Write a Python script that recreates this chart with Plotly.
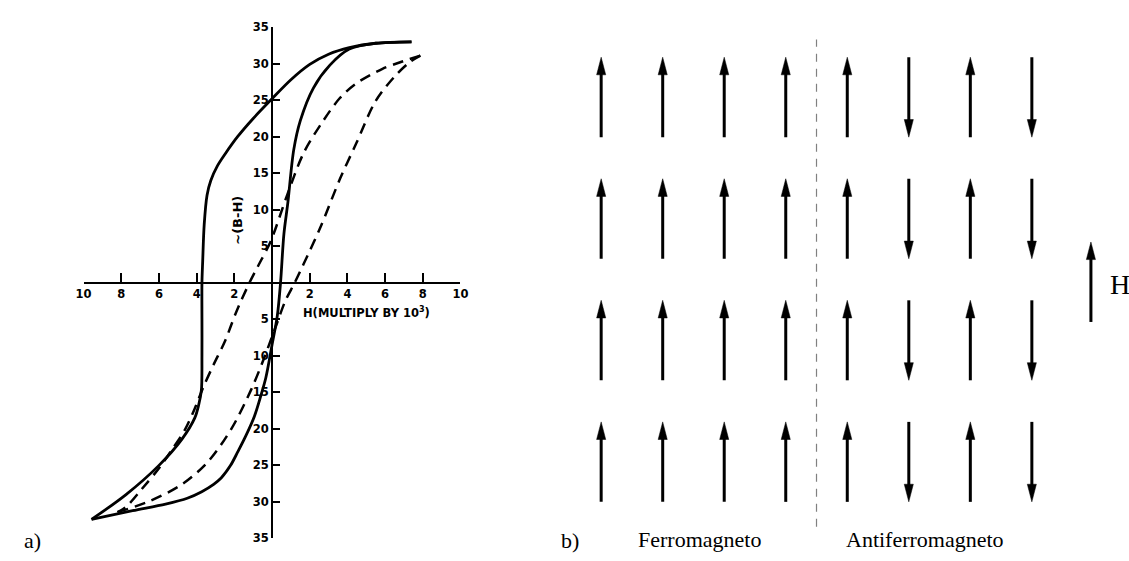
import plotly.graph_objects as go

W, H_PX = 1129, 561

# ---- a) hysteresis loops: H (x 10^3) versus ~(B-H) ----
# major loop (solid), descending branch from positive saturation
major_down_h = [7.4, 5.5, 4.1, 3.0, 2.0, 1.0, 0.0, -1.0, -1.83, -2.5, -2.9, -3.25,
                -3.45, -3.6, -3.68, -3.72, -3.72, -3.72, -3.75, -3.9, -4.1, -4.78,
                -6.0, -7.75, -9.58]
major_down_b = [33.0, 32.8, 32.2, 31.3, 29.9, 27.8, 25.2, 22.5, 20.0, 17.6, 16.0, 14.0,
                12.0, 8.0, 3.0, 0.0, -5.0, -10.0, -14.7, -16.8, -18.5, -21.4,
                -25.0, -29.0, -32.4]
# major loop (solid), ascending branch from negative saturation
major_up_h = [-9.58, -7.4, -5.65, -4.5, -3.73, -3.1, -2.69, -2.2, -1.83, -1.4, -0.94,
              -0.6, -0.33, 0.0, 0.28, 0.45, 0.63, 0.84, 1.15, 1.5, 2.2, 3.07, 4.1,
              5.5, 7.4]
major_up_b = [-32.4, -31.2, -30.3, -29.5, -28.6, -27.6, -26.7, -25.0, -23.2, -21.0,
              -18.3, -15.5, -13.0, -8.5, -4.5, 0.0, 6.7, 11.0, 18.2, 22.2, 26.7, 29.8,
              32.0, 32.8, 33.0]
# minor loop (dashed)
minor_down_h = [7.87, 6.8, 5.86, 4.47, 3.6, 2.72, 1.68, 0.8, -0.07, -0.7, -1.2, -1.9,
                -2.5, -3.1, -3.65, -4.1, -4.6, -5.3, -6.0, -6.9, -7.75, -8.2]
minor_down_b = [31.1, 30.2, 29.3, 27.3, 25.3, 22.2, 17.8, 12.0, 5.7, 2.5, 0.0, -4.0,
                -8.0, -11.2, -14.3, -17.2, -20.0, -22.8, -25.4, -28.2, -30.7, -31.4]
minor_up_h = [-8.2, -6.5, -4.78, -3.4, -2.16, -1.12, -0.42, 0.28, 0.7, 1.2, 1.68, 2.55,
              3.6, 4.47, 5.5, 6.56, 7.3, 7.87]
minor_up_b = [-31.4, -29.9, -27.6, -24.5, -20.0, -14.7, -10.3, -5.4, -2.5, 0.0, 2.6,
              7.5, 14.2, 19.1, 24.9, 28.4, 30.2, 31.1]

h_ticks = [-10, -8, -6, -4, -2, 2, 4, 6, 8, 10]
h_ticktext = ["10", "8", "6", "4", "2", "2", "4", "6", "8", "10"]
b_ticks = [-35, -30, -25, -20, -15, -10, -5, 5, 10, 15, 20, 25, 30, 35]
b_ticktext = ["35", "30", "25", "20", "15", "10", "5", "5", "10", "15", "20", "25", "30", "35"]

# ---- b) spin arrangements ----
columns = [1, 2, 3, 4, 5, 6, 7, 8]
spins = [1, 1, 1, 1, 1, -1, 1, -1]      # ferro (1-4) | antiferro (5-8)
rows = [4, 3, 2, 1]
separator_x = 4.5
field_x, field_y = 8.96, 2.48
label_ferro = "Ferromagneto"
label_antiferro = "Antiferromagneto"

# ---- layout geometry ----
x_dom = [76.7 / W, 459.0 / W]
y_dom = [(H_PX - 545.0) / H_PX, (H_PX - 20.7) / H_PX]
x_axis_pos = y_dom[0] + (y_dom[1] - y_dom[0]) * 0.5   # line through B-H = 0
y_axis_pos = x_dom[0] + (x_dom[1] - x_dom[0]) * 0.5   # line through H = 0

col_px0, col_step = 601.7, 62.41
row_px0, row_step = 92.5, 124.67
x2_dom = [0.5, 1.0]
x2_range = [1 + (x2_dom[0] * W - col_px0) / col_step,
            1 + (x2_dom[1] * W - col_px0) / col_step]
y2_range = [4 - (H_PX - row_px0) / row_step, 4 + row_px0 / row_step]

half_len = 0.329
head_len = 0.145
head_hw = 0.074

fig = go.Figure()

solid = dict(color="black", width=2.8, shape="spline", smoothing=0.9)
dashed = dict(color="black", width=2.5, shape="spline", smoothing=0.9, dash="11px,7px")
for hx, by, ln in [(major_down_h, major_down_b, solid), (major_up_h, major_up_b, solid),
                   (minor_down_h, minor_down_b, dashed), (minor_up_h, minor_up_b, dashed)]:
    fig.add_trace(go.Scatter(x=hx, y=by, mode="lines", line=ln,
                             xaxis="x", yaxis="y", hoverinfo="skip"))


def arrow_parts(cx, cy, s):
    tip = cy + s * half_len
    tail = cy - s * half_len
    base = tip - s * head_len
    stem = ([cx, cx, None], [tail, base + s * 0.01, None])
    head = ([cx - head_hw, cx + head_hw, cx, cx - head_hw, None],
            [base, base, tip, base, None])
    return stem, head


stem_x, stem_y, head_x, head_y = [], [], [], []
for ry in rows:
    for cx, s in zip(columns, spins):
        (sx, sy), (hx, hy) = arrow_parts(cx, ry, s)
        stem_x += sx; stem_y += sy; head_x += hx; head_y += hy
(sx, sy), (hx, hy) = arrow_parts(field_x, field_y, 1)
stem_x += sx; stem_y += sy; head_x += hx; head_y += hy

fig.add_trace(go.Scatter(x=stem_x, y=stem_y, mode="lines",
                         line=dict(color="black", width=3),
                         xaxis="x2", yaxis="y2", hoverinfo="skip"))
fig.add_trace(go.Scatter(x=head_x, y=head_y, mode="lines", fill="toself",
                         fillcolor="black", line=dict(color="black", width=0.5),
                         xaxis="x2", yaxis="y2", hoverinfo="skip"))
fig.add_trace(go.Scatter(x=[separator_x, separator_x], y=[0.467, 4.475], mode="lines",
                         line=dict(color="#808080", width=1.2, dash="8px,7px"),
                         xaxis="x2", yaxis="y2", hoverinfo="skip"))

tick_font = dict(family="DejaVu Sans", size=11.5, color="black", weight="bold")
label_font = dict(family="DejaVu Sans", size=13, color="black", weight="bold")
serif = "Liberation Serif"

fig.update_layout(
    width=W, height=H_PX, margin=dict(l=0, r=0, t=0, b=0),
    paper_bgcolor="white", plot_bgcolor="white", showlegend=False,
    xaxis=dict(domain=x_dom, range=[-10, 10], anchor="free", position=x_axis_pos,
               showgrid=False, zeroline=False, showline=True, linecolor="black",
               linewidth=2, ticks="inside", ticklen=9, tickwidth=2, tickcolor="black",
               tickvals=h_ticks, ticktext=h_ticktext, tickfont=tick_font),
    yaxis=dict(domain=y_dom, range=[-35, 35], anchor="free", position=y_axis_pos,
               showgrid=False, zeroline=False, showline=True, linecolor="black",
               linewidth=2, ticks="inside", ticklen=7, tickwidth=2, tickcolor="black",
               tickvals=b_ticks, ticktext=b_ticktext, tickfont=tick_font),
    xaxis2=dict(domain=x2_dom, range=x2_range, anchor="y2", visible=False),
    yaxis2=dict(domain=[0, 1], range=y2_range, anchor="x2", visible=False),
    annotations=[
        dict(text="~(B-H)", x=-1.82, y=8.6, xref="x", yref="y", textangle=-90,
             showarrow=False, font=label_font, xanchor="center", yanchor="middle"),
        dict(text="H(MULTIPLY BY 10<sup>3</sup>)", x=5.03, y=-4.0, xref="x", yref="y",
             showarrow=False, font=tick_font, xanchor="center", yanchor="middle"),
        dict(text="a)", x=24.5 / W, y=(H_PX - 547) / H_PX, xref="paper", yref="paper",
             showarrow=False, xanchor="center", yanchor="middle",
             font=dict(family=serif, size=22, color="black")),
        dict(text="b)", x=570 / W, y=(H_PX - 547) / H_PX, xref="paper", yref="paper",
             showarrow=False, xanchor="center", yanchor="middle",
             font=dict(family=serif, size=22, color="black")),
        dict(text=label_ferro, x=2.59, y=0.36, xref="x2", yref="y2",
             showarrow=False, xanchor="center", yanchor="middle",
             font=dict(family=serif, size=22, color="black")),
        dict(text=label_antiferro, x=6.27, y=0.36, xref="x2", yref="y2",
             showarrow=False, xanchor="center", yanchor="middle",
             font=dict(family=serif, size=22, color="black")),
        dict(text="H", x=9.43, y=2.46, xref="x2", yref="y2",
             showarrow=False, xanchor="center", yanchor="middle",
             font=dict(family=serif, size=28, color="black")),
    ],
)

fig.write_html("out.html")
